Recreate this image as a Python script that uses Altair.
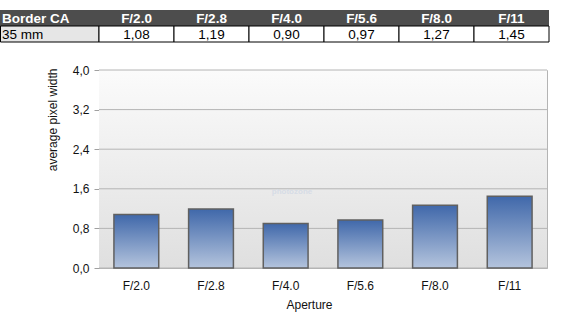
import altair as alt
import pandas as pd

apertures = ["F/2.0", "F/2.8", "F/4.0", "F/5.6", "F/8.0", "F/11"]
values = [1.08, 1.19, 0.90, 0.97, 1.27, 1.45]
y_ticks = [0.0, 0.8, 1.6, 2.4, 3.2, 4.0]
row_label = "35 mm"
table_title = "Border CA"

df = pd.DataFrame({
    "Aperture": apertures,
    "ca": values,
    "label": [f"{v:.2f}".replace(".", ",") for v in values],
})
ticks_df = pd.DataFrame({"ca": y_ticks})

FONT = "Liberation Sans"
W, H = 448, 198

x_bar = alt.X(
    "Aperture:N", sort=apertures, title="Aperture",
    scale=alt.Scale(paddingInner=0.4, paddingOuter=0.2),
    axis=alt.Axis(labelAngle=0, ticks=False, tickSize=0, labelPadding=12,
                  labelFontSize=12, labelColor="#111", labelFont=FONT,
                  domainColor="#b4b4b4", titleFontSize=12, titleFont=FONT,
                  titleFontWeight="normal", titleColor="#111",
                  titleX=210, titleY=31, titleBaseline="top", titleAlign="center"),
)

bar_grad = alt.LinearGradient(
    gradient="linear", x1=0, x2=0, y1=0, y2=1,
    stops=[alt.GradientStop(color="#4068aa", offset=0),
           alt.GradientStop(color="#b4c4dd", offset=1)],
)
view_grad = alt.LinearGradient(
    gradient="linear", x1=0, x2=0, y1=0, y2=1,
    stops=[alt.GradientStop(color="#fbfbfb", offset=0),
           alt.GradientStop(color="#dfdfdf", offset=1)],
)

one = pd.DataFrame({"h": [table_title], "r": [row_label]})

bg = alt.Chart(one).mark_rect(fill=view_grad).encode(
    x=alt.value(0), x2=alt.value(W), y=alt.value(0), y2=alt.value(H))

y_scale = alt.Scale(domain=[0, 4])
y_axis = alt.Axis(values=y_ticks, tickSize=5, labelPadding=5, grid=False,
                  labelOverlap=False, labelFlush=False,
                  labelExpr="replace(format(datum.value, '.1f'), '.', ',')",
                  labelFontSize=12, labelColor="#111", labelFont=FONT,
                  tickColor="#a0a0a0", domainColor="#a0a0a0",
                  titleFontSize=12, titleFont=FONT, titleFontWeight="normal",
                  titleColor="#111", titleX=-47, titleY=-2,
                  titleAlign="right", titleBaseline="middle", titleAngle=-90)
y_enc = alt.Y("ca:Q", scale=y_scale, title="average pixel width", axis=y_axis)

grid = alt.Chart(ticks_df).mark_rule(color="#b4b4b4", strokeWidth=1).encode(y=y_enc)

bars = alt.Chart(df).mark_bar(fill=bar_grad, stroke="#606060", strokeWidth=1.5).encode(
    x=x_bar, y=y_enc)

watermark = alt.Chart(pd.DataFrame({"t": ["photozone"]})).mark_text(
    font=FONT, fontSize=8, fontWeight="bold", color="#d6dce6"
).encode(text="t:N", x=alt.value(193), y=alt.value(122))

# table
tx = alt.X("Aperture:N", sort=apertures,
           scale=alt.Scale(range=[0, 450], paddingInner=0, paddingOuter=0), axis=None)

header_bg = alt.Chart(one).mark_rect(fill="#4d4d4d").encode(
    x=alt.value(-99), x2=alt.value(450), y=alt.value(-60), y2=alt.value(-44))
header_first = alt.Chart(one).mark_text(
    align="left", baseline="middle", font=FONT, fontSize=13.5, fontWeight="bold", color="white"
).encode(text="h:N", x=alt.value(-97), y=alt.value(-51.5))
first_cell = alt.Chart(one).mark_rect(fill="#e6e6e6", stroke="black", strokeWidth=1).encode(
    x=alt.value(-98.5), x2=alt.value(0), y=alt.value(-44), y2=alt.value(-28))
first_text = alt.Chart(one).mark_text(
    align="left", baseline="middle", font=FONT, fontSize=13.5, color="black"
).encode(text="r:N", x=alt.value(-97), y=alt.value(-35.5))

cells = alt.Chart(df).mark_rect(fill="white", stroke="black", strokeWidth=1).encode(
    x=tx, y=alt.value(-44), y2=alt.value(-28))
head_text = alt.Chart(df).mark_text(
    baseline="middle", font=FONT, fontSize=13.5, fontWeight="bold", color="white"
).encode(x=tx, text="Aperture:N", y=alt.value(-51.5))
val_text = alt.Chart(df).mark_text(
    baseline="middle", font=FONT, fontSize=13.5, color="black"
).encode(x=tx, text="label:N", y=alt.value(-35.5))

table = alt.layer(header_bg, header_first, first_cell, first_text, cells, head_text, val_text)

chart = alt.layer(bg, grid, watermark, bars, table).resolve_scale(x="independent").properties(
    width=W, height=H,
    autosize=alt.AutoSizeParams(type="none"),
    padding={"left": 99, "top": 70, "right": 20, "bottom": 53},
    background="white",
).configure_view(stroke="#b4b4b4")

chart.save("out.html", embed_options={"renderer": "svg", "actions": False})
